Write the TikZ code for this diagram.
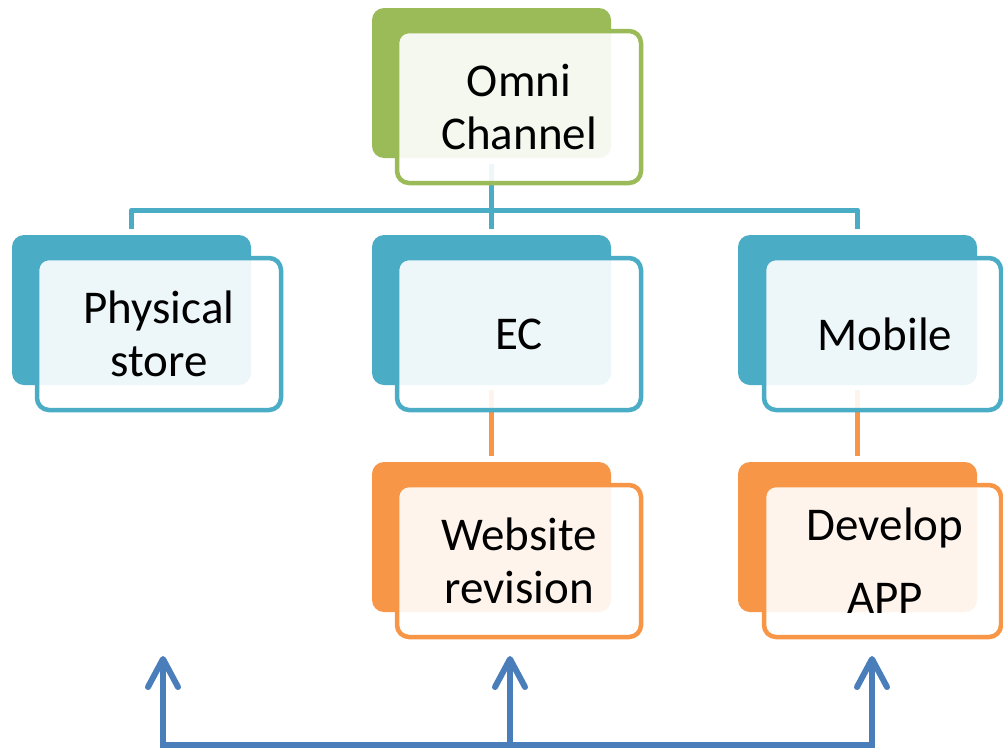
\documentclass[tikz,border=0pt]{standalone}
\usepackage{fontspec}
\setmainfont{Carlito}
\usetikzlibrary{arrows.meta,backgrounds}
\definecolor{cgreen}{HTML}{9BBB59}
\definecolor{cblue}{HTML}{4BACC6}
\definecolor{corange}{HTML}{F79646}
\definecolor{carrow}{HTML}{4A7EBB}
\begin{document}
\begin{tikzpicture}[x=1pt,y=-1pt,
  backbox/.style={rectangle, rounded corners=12pt, fill=#1, minimum width=239pt, minimum height=150pt, inner sep=0pt},
  frontbox/.style={rectangle, rounded corners=12pt, draw=#1, line width=4.5pt, fill=white, fill opacity=0.9, minimum width=244pt, minimum height=152pt, inner sep=0pt},
  lbl/.style={font=\fontsize{47}{53}\selectfont, align=center, text=black, inner sep=0pt},
  link/.style={line width=5pt, draw=#1, line join=round},
  bline/.style={line width=6pt, draw=carrow},
  barrow/.style={line width=6pt, draw=carrow, -{Straight Barb[length=28pt, width=30pt, round]}}
]
\useasboundingbox (0,0) rectangle (1003,750);
% boxes
\node[backbox=cgreen] (ob) at (491.5,83) {};
\node[frontbox=cgreen] (of) at (519,107) {};
\node[lbl] (ot) at (of.center) {Omni\\Channel};

\node[backbox=cblue] (pb) at (131.5,310) {};
\node[frontbox=cblue] (pf) at (159,334) {};
\node[lbl] (pt) at (pf.center) {Physical\\store};

\node[backbox=cblue] (eb) at (491.5,310) {};
\node[frontbox=cblue] (ef) at (519,334) {};
\node[lbl] (et) at (ef.center) {EC};

\node[backbox=cblue] (mb) at (857.5,310) {};
\node[frontbox=cblue, minimum width=237pt] (mf) at (882.5,334) {};
\node[lbl] (mt) at ([xshift=2.5pt]mf.center) {Mobile};

\node[backbox=corange] (wb) at (491.5,537) {};
\node[frontbox=corange] (wf) at (519,561) {};
\node[lbl] (wt) at (wf.center) {Website\\revision};

\node[backbox=corange] (db) at (857.5,537) {};
\node[frontbox=corange, minimum width=237pt] (df) at (882.5,561) {};
\node[lbl, font=\fontsize{47}{73}\selectfont] (dt) at ([xshift=2.5pt]df.center) {Develop\\APP};

% connectors
\begin{scope}[on background layer]
\coordinate (hub) at (491.5,210);
\draw[link=cblue] ([yshift=-6pt]ob.south) -- ([yshift=6pt]eb.north);
\draw[link=cblue] ([yshift=6pt]pb.north) |- (hub) -| ([yshift=6pt]mb.north);
\draw[link=corange] ([yshift=-5pt]eb.south) -- ([yshift=6pt]wb.north);
\draw[link=corange] ([yshift=-5pt]mb.south) -- ([yshift=6pt]db.north);
\end{scope}

% bottom arrows
\coordinate (a1) at (163,656);
\coordinate (a2) at (510,656);
\coordinate (a3) at (872,656);
\coordinate (b1) at (163,748);
\coordinate (b2) at (510,748);
\coordinate (b3) at (872,748);
\draw[bline] ([xshift=-3pt,yshift=3pt]b1) -- ([xshift=3pt,yshift=3pt]b3);
\draw[barrow] (b1) -- (a1);
\draw[barrow] (b2) -- (a2);
\draw[barrow] (b3) -- (a3);
\end{tikzpicture}
\end{document}
